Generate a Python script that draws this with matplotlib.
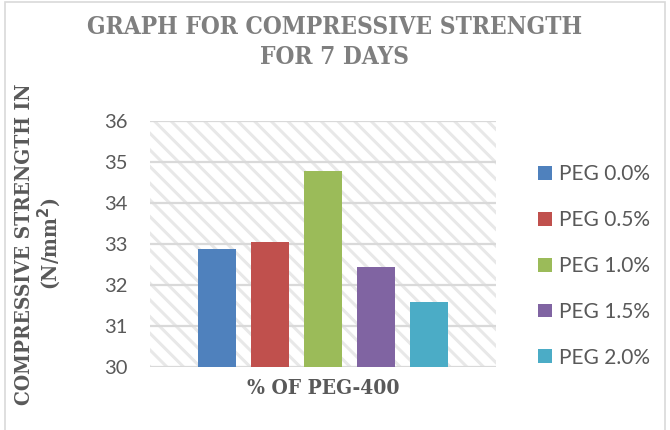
import matplotlib
matplotlib.use('Agg')
import matplotlib.pyplot as plt
from matplotlib.patches import Rectangle
import numpy as np

title = 'GRAPH FOR COMPRESSIVE STRENGTH\nFOR 7 DAYS'
x_label = '% OF PEG-400'
y_label = 'COMPRESSIVE STRENGTH IN\n(N/mm$^{\\mathbf{2}}$)'
series_names = ['PEG 0.0%', 'PEG 0.5%', 'PEG 1.0%', 'PEG 1.5%', 'PEG 2.0%']
strength = [32.88, 33.05, 34.78, 32.44, 31.59]
colors = ['#4F81BD', '#C0504D', '#9BBB59', '#8064A2', '#4BACC6']
y_ticks = [30, 31, 32, 33, 34, 35, 36]

text_grey = '#595959'
grid_grey = '#d9d9d9'
serif = dict(family='DejaVu Serif', fontstretch='condensed', fontweight='bold')

plt.rcParams['hatch.linewidth'] = 2.2
plt.rcParams['hatch.color'] = '#e8e8e8'

fig = plt.figure(figsize=(6.7, 4.3), dpi=100)
ax = fig.add_axes([150 / 670, 1 - 367 / 430, 346 / 670, 246 / 430])

# striped plot area background
bg = Rectangle((0, 0), 1, 1, transform=ax.transAxes, facecolor='white',
               edgecolor='#e8e8e8', hatch='\\\\', linewidth=0, zorder=0)
ax.add_patch(bg)

idx = np.arange(len(strength))
for i, (name, val, c) in enumerate(zip(series_names, strength, colors)):
    ax.bar(idx[i], val - 30, bottom=30, width=0.7, color=c, label=name, zorder=3)

half = 346 / 53 / 2
ax.set_xlim(2 - half, 2 + half)
ax.set_ylim(30, 36)
ax.set_yticks(y_ticks)
ax.set_xticks([])
for t in y_ticks:
    ax.axhline(t, color=grid_grey, lw=1.6, zorder=1)
for s in ax.spines.values():
    s.set_visible(False)
ax.tick_params(axis='y', length=0, pad=16, labelsize=14.5, labelcolor=text_grey)
for lbl in ax.get_yticklabels():
    lbl.set_family('Lato')
ax.set_facecolor('none')

ax.set_xlabel(x_label, fontsize=15, color=text_grey, labelpad=8, **serif)
ax.set_ylabel(y_label, fontsize=15, color=text_grey, labelpad=30,
              linespacing=1.05, **serif)

fig.text(0.5, 0.965, title, ha='center', va='top', fontsize=17.5,
         color='#7f7f7f', linespacing=1.3, **serif)

leg = fig.legend(loc='upper left', bbox_to_anchor=(530 / 670, 1 - 156 / 430),
                 frameon=False, fontsize=15, handlelength=0.65, handleheight=0.65,
                 handletextpad=0.35, labelspacing=1.24, borderaxespad=0)
for t in leg.get_texts():
    t.set_color(text_grey)
    t.set_family('Lato')

# thin frame round the chart
fig.add_artist(Rectangle((5 / 670, -0.01), 660 / 670, 1 - 2 / 430 + 0.01,
                         transform=fig.transFigure, fill=False,
                         edgecolor='#d9d9d9', linewidth=1.2))

fig.savefig('out.png', dpi=100)
